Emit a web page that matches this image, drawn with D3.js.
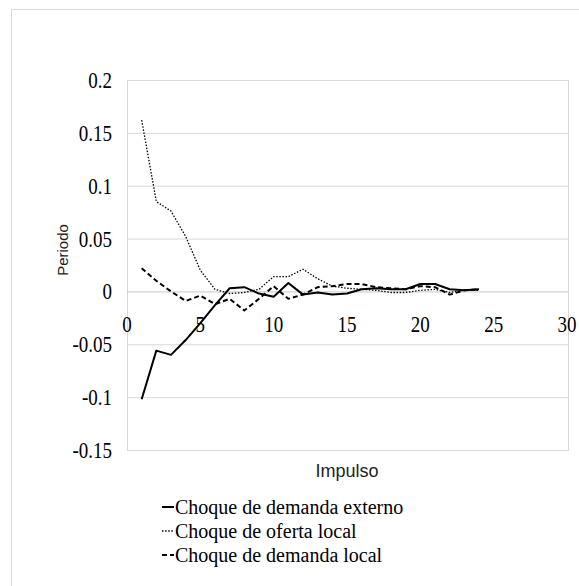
<!DOCTYPE html>
<html lang="es">
<head>
<meta charset="UTF-8">
<title>Impulso respuesta</title>
<script src="https://d3js.org/d3.v7.min.js"></script>
<style>
  body { margin: 0; background: #fff; }
  svg text.serif { font-family: "Times New Roman", Times, "Liberation Serif", "DejaVu Serif", serif; }
</style>
</head>
<body>
<div id="chart"></div>
<script>
// periods 1..24
var periods = d3.range(1, 25);

var demandaExterno = [-0.102, -0.056, -0.060, -0.046, -0.030, -0.013, 0.003, 0.004, -0.002, -0.005,
                      0.008, -0.003, -0.001, -0.003, -0.002, 0.002, 0.003, 0.002, 0.002, 0.007,
                      0.007, 0.002, 0.001, 0.002];
var ofertaLocal = [0.162, 0.085, 0.076, 0.052, 0.020, 0.002, -0.002, -0.001, 0.002, 0.014,
                   0.014, 0.021, 0.012, 0.005, 0.003, 0.002, 0.001, -0.001, -0.001, 0.001,
                   0.002, -0.001, 0.001, 0.001];
var demandaLocal = [0.022, 0.010, 0.000, -0.009, -0.004, -0.012, -0.007, -0.018, -0.007, 0.005,
                    -0.007, -0.003, 0.004, 0.005, 0.007, 0.007, 0.004, 0.003, 0.002, 0.005,
                    0.004, -0.003, 0.001, 0.002];

var xTicks = [0, 5, 10, 15, 20, 25, 30];
var yTicks = [-0.15, -0.1, -0.05, 0, 0.05, 0.1, 0.15, 0.2];
var yTickLabels = ["-0.15", "-0.1", "-0.05", "0", "0.05", "0.1", "0.15", "0.2"];

var seriesNames = ["Choque de demanda externo", "Choque de oferta local", "Choque de demanda local"];
var seriesData = [demandaExterno, ofertaLocal, demandaLocal];
var seriesDash = [null, "1.5,1.6", "5,3"];
var seriesWidth = [2, 1.3, 2];

var W = 579, H = 586;
var plot = {left: 127, right: 567, top: 80, bottom: 450};

var svg = d3.select("#chart").append("svg")
    .attr("width", W)
    .attr("height", H);

// outer frame
svg.append("rect")
    .attr("x", 11.5).attr("y", 9.5)
    .attr("width", W).attr("height", H)
    .attr("fill", "#fff")
    .attr("stroke", "#d9d9d9");

var x = d3.scaleLinear().domain([0, 30]).range([plot.left, plot.right]);
var y = d3.scaleLinear().domain([-0.15, 0.2]).range([plot.bottom, plot.top]);

// plot border
svg.append("rect")
    .attr("x", plot.left + 0.5).attr("y", plot.top + 0.5)
    .attr("width", plot.right - plot.left + 1).attr("height", plot.bottom - plot.top)
    .attr("fill", "none")
    .attr("stroke", "#d9d9d9");

// gridlines
svg.append("g")
    .attr("transform", "translate(" + plot.left + ",0)")
    .call(d3.axisRight(y).tickValues(yTicks).tickSize(plot.right - plot.left + 1).tickFormat(""))
    .call(function(g) {
        g.select(".domain").remove();
        g.selectAll(".tick line").attr("stroke", function(d) { return d === 0 ? "#c8c8c8" : "#d9d9d9"; });
    });

// y tick labels
svg.append("g").selectAll("text")
    .data(yTicks)
    .enter().append("text")
    .attr("class", "serif")
    .attr("font-size", 19)
    .attr("text-anchor", "end")
    .attr("transform", function(d) { return "translate(112," + (y(d) + 8) + ") scale(1,1.2)"; })
    .text(function(d, i) { return yTickLabels[i]; });

// x tick labels (below zero line)
svg.append("g").selectAll("text")
    .data(xTicks)
    .enter().append("text")
    .attr("class", "serif")
    .attr("font-size", 19)
    .attr("text-anchor", "middle")
    .attr("transform", function(d) { return "translate(" + x(d) + "," + (y(0) + 41) + ") scale(1,1.2)"; })
    .text(function(d) { return d; });

// lines
var line = d3.line()
    .x(function(d, i) { return x(periods[i]); })
    .y(function(d) { return y(d); });

seriesData.forEach(function(s, k) {
    svg.append("path")
        .datum(s)
        .attr("fill", "none")
        .attr("stroke", "#000")
        .attr("stroke-width", seriesWidth[k])
        .attr("stroke-dasharray", seriesDash[k])
        .attr("stroke-linejoin", "round")
        .attr("d", line);
});

// axis titles
svg.append("text")
    .attr("transform", "translate(68,250) rotate(-90)")
    .attr("text-anchor", "middle")
    .attr("font-family", "'Liberation Sans', Arial, sans-serif")
    .attr("font-size", 15)
    .attr("fill", "#222")
    .text("Periodo");

svg.append("text")
    .attr("x", 347).attr("y", 477)
    .attr("text-anchor", "middle")
    .attr("font-family", "'Liberation Sans Narrow', 'Liberation Sans', Arial, sans-serif")
    .attr("font-size", 18)
    .attr("fill", "#222")
    .text("Impulso");

// legend
var legend = svg.append("g").attr("transform", "translate(158,0)");
var legendY = [514, 538, 562];
seriesNames.forEach(function(name, k) {
    legend.append("line")
        .attr("x1", 4).attr("x2", 16)
        .attr("y1", legendY[k] - 7).attr("y2", legendY[k] - 7)
        .attr("stroke", "#000")
        .attr("stroke-width", seriesWidth[k])
        .attr("stroke-dasharray", seriesDash[k]);
    legend.append("text")
        .attr("class", "serif")
        .attr("font-size", 20)
        .attr("x", 17)
        .attr("y", legendY[k])
        .text(name);
});
</script>
</body>
</html>
